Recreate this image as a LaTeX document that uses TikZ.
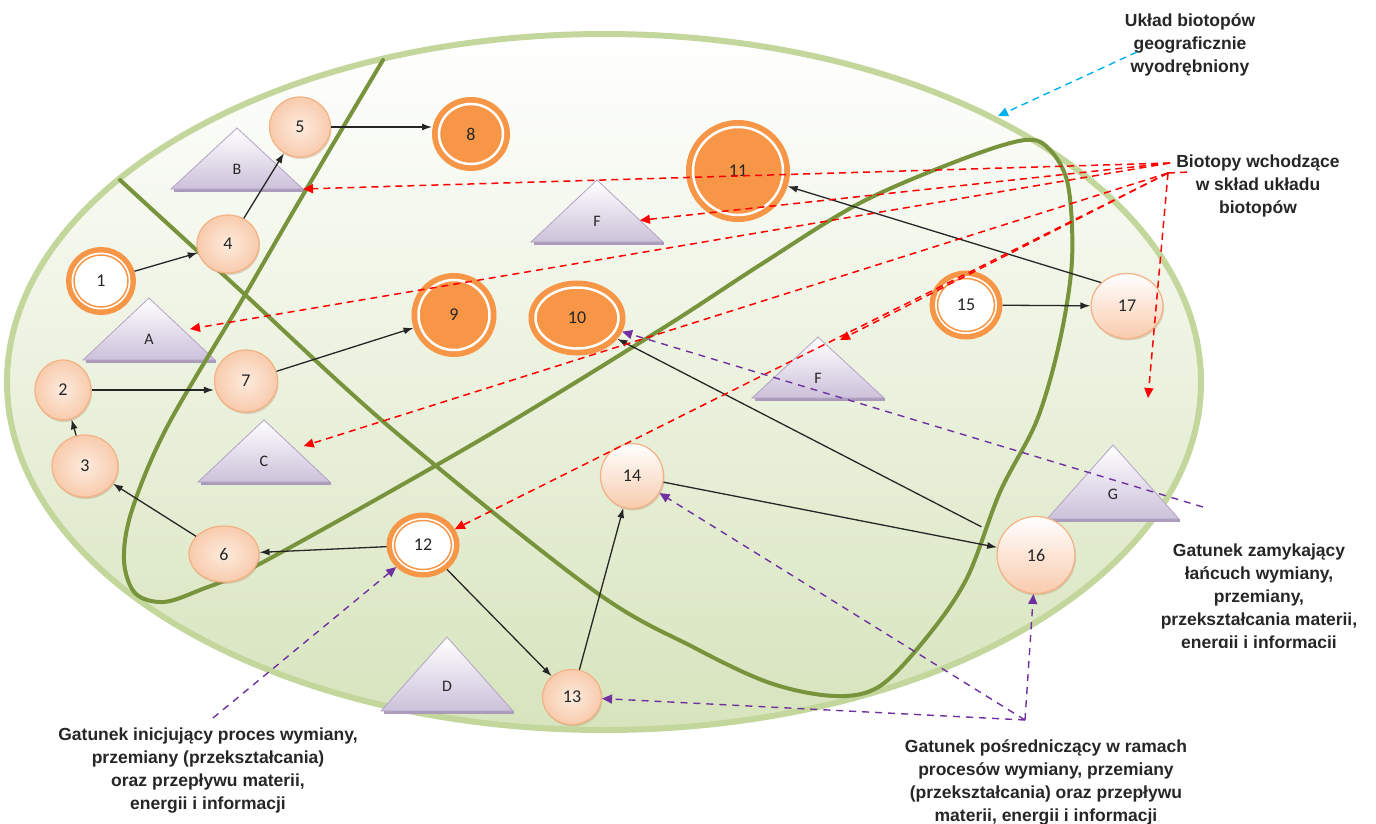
\documentclass[tikz,border=0pt]{standalone}
\usepackage{fontspec}
\setmainfont{Liberation Sans}
\newfontfamily\numfont{Carlito}
\usetikzlibrary{positioning, arrows.meta, calc, shapes.geometric, shadows}
\definecolor{orng}{HTML}{F79646}
\definecolor{peach}{HTML}{F8CBAD}
\definecolor{peachl}{HTML}{FDEBDD}
\definecolor{peachd}{HTML}{F4B183}
\definecolor{lav}{HTML}{CCC1DA}
\definecolor{lavd}{HTML}{B3A2C7}
\definecolor{gborder}{HTML}{C3D69B}
\definecolor{gfill}{HTML}{D7E4BD}
\definecolor{gloop}{HTML}{77933C}
\definecolor{txt}{HTML}{262626}
\definecolor{purp}{HTML}{7030A0}
\definecolor{skyb}{HTML}{00B0F0}

\begin{document}
\begin{tikzpicture}[x=1pt, y=-1pt,
  field/.style={ellipse, draw=gborder, line width=6pt, top color=white, bottom color=gfill, minimum width=1194pt, minimum height=696pt, inner sep=0pt},
  ball/.style={ellipse, draw=peachd, line width=1.2pt, inner color=peachl, outer color=peach, inner sep=0pt, text=txt, font=\numfont\fontsize{18}{18}\selectfont, drop shadow={shadow xshift=1pt, shadow yshift=-2pt, fill=peachd!70!black, opacity=0.3}},
  ballv/.style={ball, top color=white, bottom color=peach},
  hollow/.style={ellipse, fill=white, draw=orng, line width=1.5pt, preaction={draw=orng, line width=16pt}, preaction={draw=white, line width=5pt}, inner sep=0pt, outer sep=8pt, text=txt, font=\numfont\fontsize{18}{18}\selectfont},
  dark/.style={ellipse, fill=orng, draw=white, line width=2.5pt, preaction={draw=orng, line width=14pt}, inner sep=0pt, outer sep=7pt, text=txt, font=\numfont\fontsize{18}{18}\selectfont},
  tri/.style={draw=lavd, line width=0.8pt, top color=white, bottom color=lav},
  tlabel/.style={font=\numfont\fontsize{16}{16}\selectfont, text=txt, inner sep=0pt},
  arr/.style={-{Latex[length=10pt,width=7pt]}, line width=1.3pt, draw=txt},
  redarr/.style={-{Triangle[length=10pt,width=9pt]}, draw=red, line width=1.5pt, dash pattern=on 7pt off 5pt},
  purarr/.style={-{Triangle[length=10pt,width=9pt]}, draw=purp, line width=1.4pt, dash pattern=on 7pt off 6pt},
  bluarr/.style={-{Triangle[length=10pt,width=9pt]}, draw=skyb, line width=1.4pt, dash pattern=on 7pt off 5pt},
  lbl/.style={font=\bfseries\fontsize{17.5}{23}\selectfont, text=txt, align=center}
]
\useasboundingbox (0,0) rectangle (1376,823);

\node[field] (uklad) at (604,382) {};

% biotopy (trojkaty)
\foreach \nm/\lt/\ax/\ay/\hh in {B/B/237/128/61, A/A/149/298/62, C/C/264/420/62, D/D/447/637/74, F1/F/597/180/62, F2/F/818/337/61, G/G/1113/445/74} {
  \coordinate (\nm-t) at (\ax,\ay);
  \coordinate (\nm-l) at (\ax-66,\ay+\hh);
  \coordinate (\nm-r) at (\ax+66,\ay+\hh);
  \fill[lavd!80!gray] ($(\nm-l)+(3,0)$) rectangle ($(\nm-r)+(1,3)$);
  \path[tri] (\nm-t) -- (\nm-l) -- (\nm-r) -- cycle;
  \node[tlabel] (\nm) at (\ax,\ay+0.67*\hh) {\lt};
}

% granice
\draw[gloop, line width=4pt, line cap=round] plot[smooth, tension=0.55] coordinates {
  (120,180) (240,290) (393,430) (593,590) (693,647) (770,683) (835,696) (880,686)
  (927,637) (967,578) (1000,492) (1037,420) (1060,340) (1072,260) (1068,185)
  (1050,150) (1025,140) (960,160) (860,203) (760,265) (660,330) (480,440)
  (267,560) (200,590) (163,602) (135,593) (124,560) (132,510) (167,427)
  (242,300) (300,200) (383,60)};

% gatunki
\node[hollow, minimum width=54pt, minimum height=52pt] (n1) at (101,281) {1};
\node[ball, minimum width=56pt, minimum height=60pt] (n2) at (63,390) {2};
\node[ball, minimum width=66pt, minimum height=62pt] (n3) at (85,466) {3};
\node[ball, minimum width=62pt, minimum height=58pt] (n4) at (228,244) {4};
\node[ball, minimum width=61pt, minimum height=60pt] (n5) at (300,127) {5};
\node[ball, minimum width=70pt, minimum height=56pt] (n6) at (224,554) {6};
\node[ball, minimum width=63pt, minimum height=62pt] (n7) at (246,381) {7};
\node[dark, minimum width=64pt, minimum height=60pt] (n8) at (471,134) {8};
\node[dark, minimum width=71pt, minimum height=70pt] (n9) at (454,315) {9};
\node[dark, minimum width=83pt, minimum height=61pt] (n10) at (577,318) {10};
\node[dark, minimum width=90pt, minimum height=88pt] (n11) at (738,171) {11};
\node[hollow, minimum width=57pt, minimum height=49pt] (n12) at (423,545) {12};
\node[ball, minimum width=59pt, minimum height=55pt] (n13) at (572,697) {13};
\node[ballv, minimum width=63pt, minimum height=65pt] (n14) at (632,476) {14};
\node[hollow, minimum width=57pt, minimum height=53pt] (n15) at (966,305) {15};
\node[ballv, minimum width=78pt, minimum height=77pt] (n16) at (1036,555) {16};
\node[ballv, minimum width=72pt, minimum height=65pt] (n17) at (1127,306) {17};

% przeplyw
\draw[arr] (n1) -- (n4);
\draw[arr] (n4) -- (n5);
\draw[arr] (n5.east) -- (n5.east -| n8.west);
\draw[arr] (n2.east) -- (n2.east -| n7.west);
\draw[arr] (n3) -- (n2);
\draw[arr] (n6) -- (n3);
\draw[arr] (n7) -- (n9);
\draw[arr] (n12) -- (n6);
\draw[arr] (n12) -- (n13);
\draw[arr] (n13) -- (n14);
\draw[arr] (n14) -- (n16);
\draw[arr, shorten <=22pt] (n16) -- (n10);
\draw[arr] (n17.north west) -- (n11);
\draw[arr] (n15) -- (n17);

% opisy
\node[lbl] (lukl) at (1190,45) {Układ biotopów\\geograficznie\\wyodrębniony};
\node[lbl] (lbio) at (1258,186) {Biotopy wchodzące\\w skład układu\\biotopów};
\begin{scope}
  \clip (1100,525) rectangle (1376,647);
  \node[lbl] (lzam) at (1259,598) {Gatunek zamykający\\łańcuch wymiany,\\przemiany,\\przekształcania materii,\\energii i informacji};
\end{scope}
\node[lbl] (lini) at (208,770) {Gatunek inicjujący proces wymiany,\\przemiany (przekształcania)\\oraz przepływu materii,\\energii i informacji};
\node[lbl] (lpos) at (1046,782) {Gatunek pośredniczący w ramach\\procesów wymiany, przemiany\\(przekształcania) oraz przepływu\\materii, energii i informacji};

\coordinate (bsrc) at (1137,52);
\coordinate (bend) at (998,116);
\draw[bluarr] (bsrc) -- (bend);

\coordinate (rsa) at (1170,163);
\coordinate (rsb) at (1168,173);
\coordinate (rstub) at (1190,172);
\coordinate (rdown) at (1148,398);
\draw[redarr] (rsa) -- (B-r);
\draw[redarr] (rsa) -- ($(F1-t)!0.65!(F1-r)$);
\draw[redarr] (rsa) -- ($(A-t)!0.5!(A-r)+(8,0)$);
\draw[redarr] (rsb) -- ($(C-t)!0.42!(C-r)+(12,0)$);
\draw[redarr] (rsb) -- ($(F2-t)+(22,3)$);
\draw[redarr] (rsb) -- (n12);
\draw[redarr] (rsb) -- (rdown);
\draw[red, line width=1.5pt, dash pattern=on 7pt off 5pt] (rsb) -- (rstub);

\coordinate (pin) at (213,718);
\coordinate (pmid) at (1025,720);
\coordinate (pend) at (1203,507);
\draw[purarr] (pin) -- (n12);
\draw[purarr] (pmid) -- (n13);
\draw[purarr] (pmid) -- (n14);
\draw[purarr] (pmid) -- (n16);
\draw[purarr] (pend) -- (n10);
\end{tikzpicture}
\end{document}
